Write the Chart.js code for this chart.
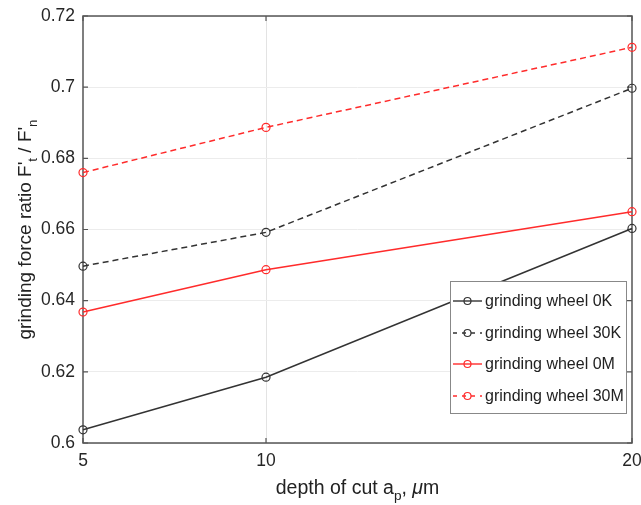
<!DOCTYPE html>
<html>
<head>
<meta charset="utf-8">
<script src="https://cdn.jsdelivr.net/npm/chart.js@4"></script>
<style>html,body{margin:0;padding:0;background:#fff}</style>
</head>
<body>
<canvas id="chart" width="641" height="505"></canvas>
<script>
// data
const depth = [5, 10, 20]
const wheel0K = [0.6037, 0.6185, 0.6603]
const wheel30K = [0.6497, 0.6592, 0.6997]
const wheel0M = [0.6368, 0.6487, 0.6650]
const wheel30M = [0.6760, 0.6887, 0.7112]
const seriesNames = ['grinding wheel 0K', 'grinding wheel 30K', 'grinding wheel 0M', 'grinding wheel 30M']
const xTicks = [5, 10, 20]
const yTicks = [0.6, 0.62, 0.64, 0.66, 0.68, 0.7, 0.72]

const FONT = '"Liberation Sans", Arial, Helvetica, sans-serif'
const BLACK = '#333333'
const RED = '#ff2b2b'

const toPoints = ys => depth.map((x, i) => ({ x: x, y: ys[i] }))

const makeSet = (label, ys, color, dashed) => ({
	label: label,
	data: toPoints(ys),
	borderColor: color,
	backgroundColor: 'transparent',
	borderWidth: 1.5,
	borderDash: dashed ? [6, 4] : [],
	pointStyle: 'circle',
	pointRadius: 4,
	pointBorderWidth: 1.2,
	pointBorderColor: color,
	pointBackgroundColor: 'transparent',
	tension: 0,
	clip: false
})

// draw a run of text pieces, some of them subscripts
function drawPieces(ctx, pieces, x, y, size) {
	let cx = x
	for (const p of pieces) {
		const s = p.sub ? size * 0.7 : size
		ctx.font = (p.italic ? 'italic ' : '') + s + 'px ' + FONT
		ctx.fillText(p.t, cx, p.sub ? y + size * 0.3 : y)
		cx += ctx.measureText(p.t).width
	}
}
function piecesWidth(ctx, pieces, size) {
	let w = 0
	for (const p of pieces) {
		const s = p.sub ? size * 0.7 : size
		ctx.font = (p.italic ? 'italic ' : '') + s + 'px ' + FONT
		w += ctx.measureText(p.t).width
	}
	return w
}

const framePlugin = {
	id: 'frame',
	beforeDatasetsDraw(chart) {
		const ctx = chart.ctx
		const a = chart.chartArea
		const xs = chart.scales.x, ys = chart.scales.y
		ctx.save()
		ctx.strokeStyle = '#555'
		ctx.lineWidth = 1.5
		ctx.strokeRect(a.left, a.top, a.right - a.left, a.bottom - a.top)
		ctx.lineWidth = 1.2
		ctx.beginPath()
		for (const v of xTicks) {
			const px = xs.getPixelForValue(v)
			ctx.moveTo(px, a.bottom); ctx.lineTo(px, a.bottom - 5)
			ctx.moveTo(px, a.top); ctx.lineTo(px, a.top + 5)
		}
		for (const v of yTicks) {
			const py = ys.getPixelForValue(v)
			ctx.moveTo(a.left, py); ctx.lineTo(a.left + 5, py)
			ctx.moveTo(a.right, py); ctx.lineTo(a.right - 5, py)
		}
		ctx.stroke()
		ctx.restore()
	},
	afterDraw(chart) {
		const ctx = chart.ctx
		const a = chart.chartArea
		ctx.save()
		ctx.fillStyle = '#222'
		ctx.textBaseline = 'alphabetic'
		ctx.textAlign = 'left'

		// x title
		const xt = [{ t: 'depth of cut a' }, { t: 'p', sub: true }, { t: ', ' }, { t: 'μ', italic: true }, { t: 'm' }]
		const xw = piecesWidth(ctx, xt, 19.5)
		drawPieces(ctx, xt, (a.left + a.right) / 2 - xw / 2, 494, 19.5)

		// y title
		const yt = [{ t: 'grinding force ratio F\'' }, { t: 't', sub: true }, { t: ' / F\'' }, { t: 'n', sub: true }]
		const yw = piecesWidth(ctx, yt, 19)
		ctx.translate(31, (a.top + a.bottom) / 2)
		ctx.rotate(-Math.PI / 2)
		drawPieces(ctx, yt, -yw / 2, 0, 19)
		ctx.restore()

		// legend
		ctx.save()
		const lx = 450, ly = 281, lw = 176, lh = 132
		ctx.fillStyle = '#fff'
		ctx.fillRect(lx, ly, lw, lh)
		ctx.strokeStyle = '#888'
		ctx.lineWidth = 1
		ctx.strokeRect(lx + 0.5, ly + 0.5, lw, lh)
		const rows = [301, 333, 364, 396]
		chart.data.datasets.forEach((ds, i) => {
			const y = rows[i]
			ctx.strokeStyle = ds.borderColor
			ctx.lineWidth = 1.4
			ctx.setLineDash(ds.borderDash.length ? [4, 5] : [])
			ctx.beginPath()
			ctx.moveTo(453, y); ctx.lineTo(482, y)
			ctx.stroke()
			ctx.setLineDash([])
			ctx.lineWidth = 1.2
			ctx.beginPath()
			ctx.arc(467.5, y, 3.5, 0, Math.PI * 2)
			ctx.stroke()
			ctx.fillStyle = '#222'
			ctx.font = '16px ' + FONT
			ctx.textBaseline = 'middle'
			ctx.fillText(ds.label, 485, y + 1)
		})
		ctx.restore()
	}
}

new Chart(document.getElementById('chart'), {
	type: 'line',
	data: {
		datasets: [
			makeSet(seriesNames[0], wheel0K, BLACK, false),
			makeSet(seriesNames[1], wheel30K, BLACK, true),
			makeSet(seriesNames[2], wheel0M, RED, false),
			makeSet(seriesNames[3], wheel30M, RED, true)
		]
	},
	options: {
		responsive: false,
		animation: false,
		devicePixelRatio: 1,
		layout: { padding: { top: 16, right: 9, left: 0, bottom: 0 } },
		plugins: { legend: { display: false }, tooltip: { enabled: false } },
		scales: {
			x: {
				type: 'linear',
				min: 5,
				max: 20,
				afterBuildTicks: s => { s.ticks = xTicks.map(v => ({ value: v })) },
				afterFit: s => { s.height = 62; s.paddingLeft = 0; s.paddingRight = 0 },
				grid: {
					color: c => (c.tick && c.tick.value === 10) ? '#e3e3e3' : 'transparent',
					drawTicks: false
				},
				border: { display: false },
				ticks: {
					padding: 8,
					color: '#262626',
					font: { family: FONT, size: 17.5 },
					maxRotation: 0,
					autoSkip: false,
					callback: v => String(v)
				}
			},
			y: {
				type: 'linear',
				min: 0.6,
				max: 0.72,
				afterBuildTicks: s => { s.ticks = yTicks.map(v => ({ value: v })) },
				afterFit: s => { s.width = 83; s.paddingTop = 0; s.paddingBottom = 0 },
				grid: { color: '#ececec', drawTicks: false },
				border: { display: false },
				ticks: {
					padding: 8,
					color: '#262626',
					font: { family: FONT, size: 17.5 },
					autoSkip: false,
					callback: v => String(Math.round(v * 100) / 100)
				}
			}
		}
	},
	plugins: [framePlugin]
})
</script>
</body>
</html>
